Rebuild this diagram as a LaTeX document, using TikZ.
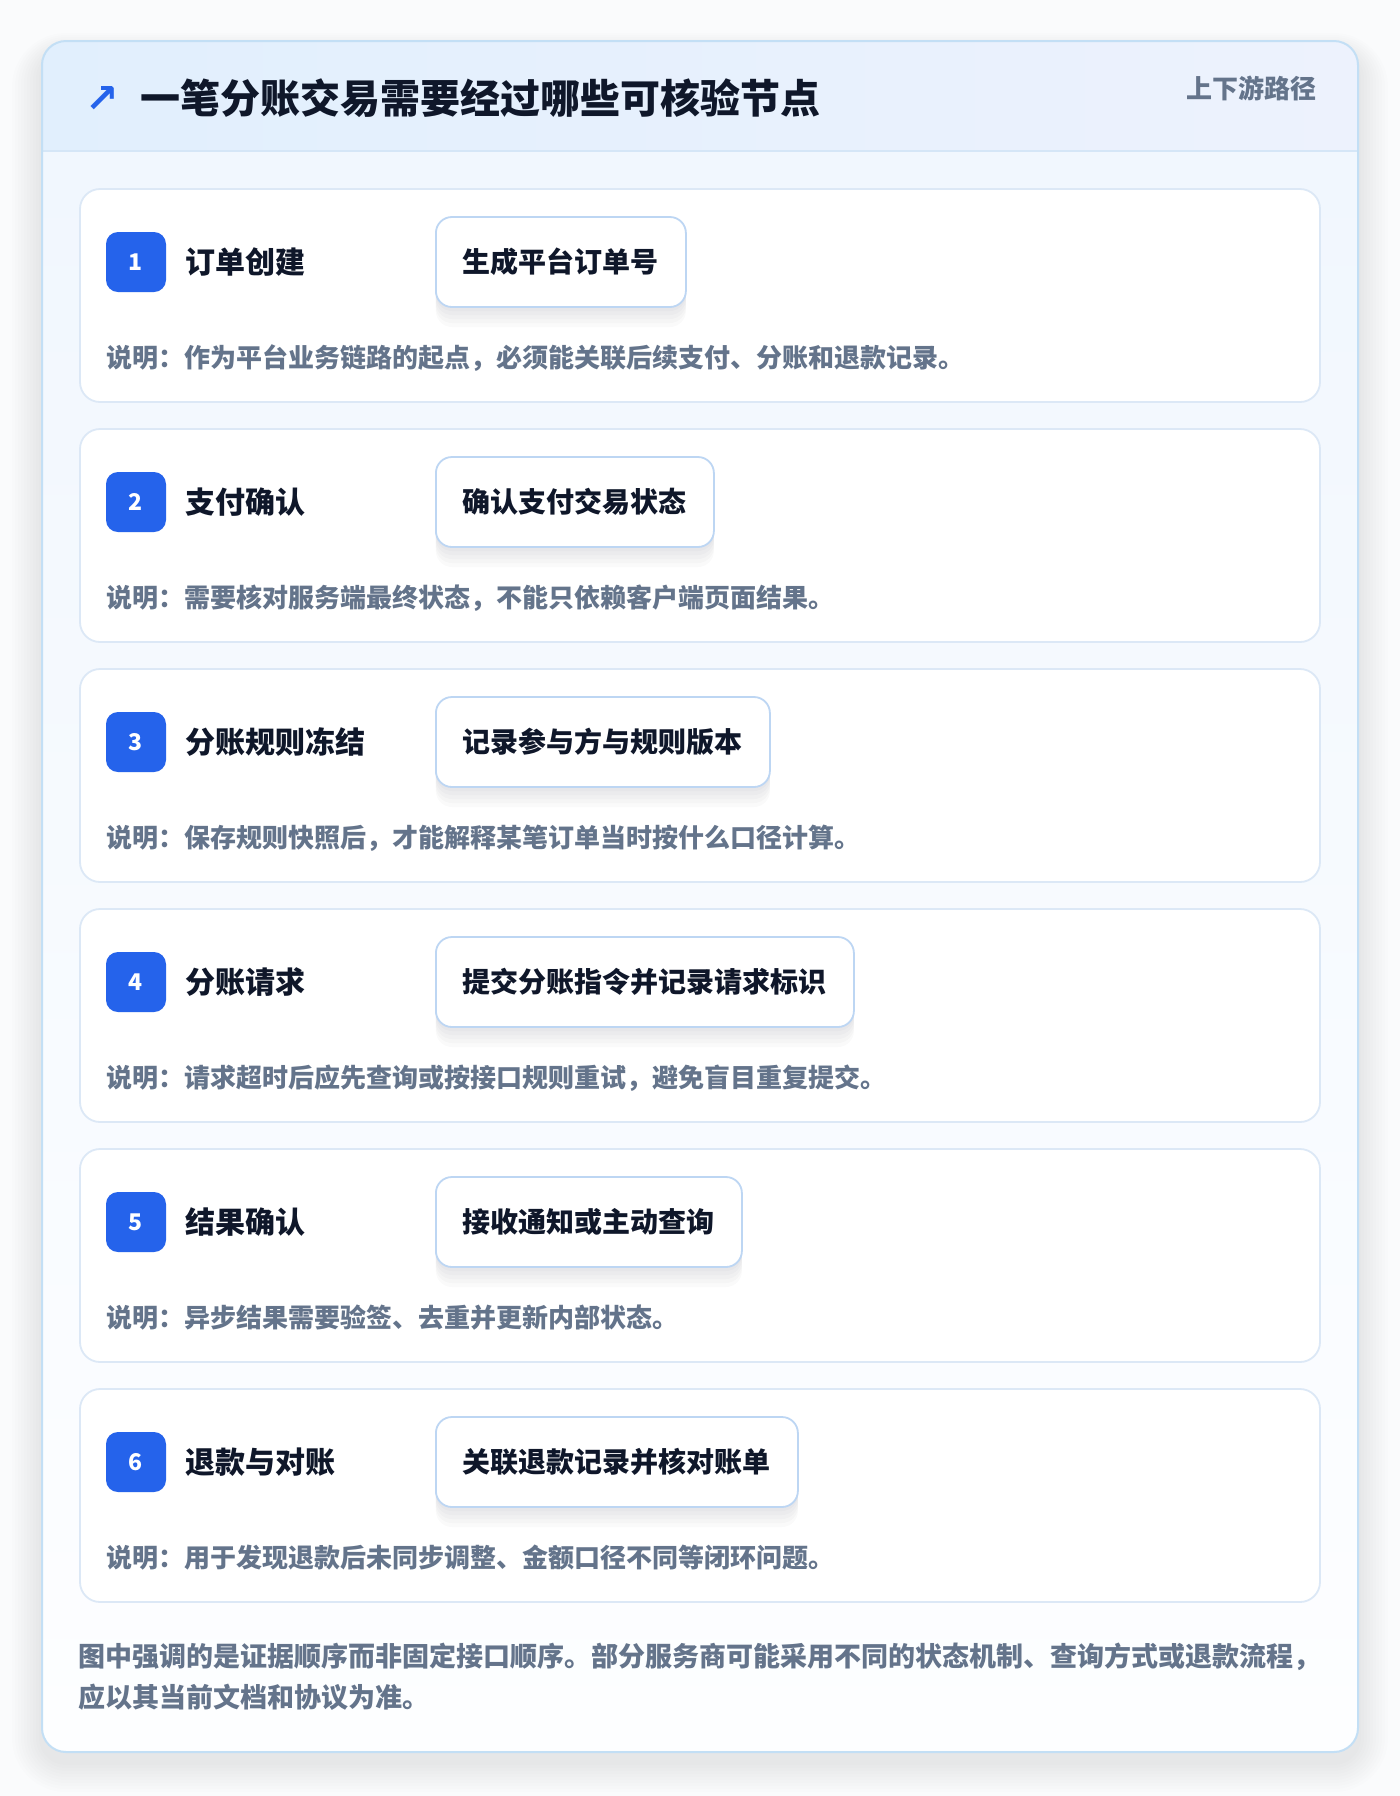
\documentclass[tikz,border=0pt]{standalone}
\usepackage{fontspec}
\setmainfont{Noto Sans CJK SC}
\newfontfamily\symfont{DejaVu Sans}
\usepackage{tikz}
\usetikzlibrary{positioning,shadows}

\definecolor{pagebg}{HTML}{FAFBFC}
\definecolor{frameline}{HTML}{C3DFF5}
\definecolor{headleft}{HTML}{E1EFFD}
\definecolor{headright}{HTML}{EDF2FD}
\definecolor{headsep}{HTML}{D5E6F7}
\definecolor{bodytop}{HTML}{F1F7FE}
\definecolor{bodybot}{HTML}{FDFEFF}
\definecolor{cardline}{HTML}{DCE8F6}
\definecolor{boxline}{HTML}{BDD6F3}
\definecolor{badgeblue}{HTML}{2563EB}
\definecolor{inkdark}{HTML}{0F172A}
\definecolor{inkgray}{HTML}{64748B}

\tikzset{
  stepcard/.style={draw=cardline, line width=0.9pt, fill=white, rounded corners=10pt,
    minimum width=620pt, minimum height=106.5pt, inner sep=0pt},
  badge/.style={fill=badgeblue, rounded corners=6pt, minimum size=30pt, inner sep=0pt,
    text=white, font=\fontsize{11.5pt}{13pt}\selectfont\bfseries},
  steptitle/.style={inner sep=0pt, text=inkdark, font=\fontsize{15pt}{18pt}\selectfont\bfseries},
  softshadow/.style={drop shadow={shadow xshift=0pt, shadow yshift=-#1, opacity=.018, fill=inkdark}},
  actionbox/.style={draw=boxline, line width=0.9pt, fill=white, rounded corners=8pt,
    minimum height=45pt, inner xsep=13.5pt, text=inkdark,
    font=\fontsize{14pt}{17pt}\selectfont\bfseries,
    softshadow=2pt, softshadow=4pt, softshadow=6pt, softshadow=8pt, softshadow=10pt},
  note/.style={inner sep=0pt, anchor=west, text=inkgray, font=\fontsize{13pt}{15pt}\selectfont\bfseries}
}

\begin{document}
\begin{tikzpicture}[x=0.5pt,y=-0.5pt]
  \useasboundingbox (0,0) rectangle (1400,1796);
  \fill[pagebg] (0,0) rectangle (1400,1796);

  % soft shadow round the frame
  \foreach \s in {1,...,10}
    \fill[black, opacity=0.007, rounded corners=12pt+\s*1.5pt]
      (42-\s*3,41-\s*2+12) rectangle (1358+\s*3,1752+\s*3+10);

  % frame, header band and body
  \begin{scope}
    \clip[rounded corners=12pt] (42,41) rectangle (1358,1752);
    \fill[top color=bodytop, bottom color=bodybot] (42,151) rectangle (1358,1752);
    \fill[left color=headleft, right color=headright] (42,41) rectangle (1358,151);
    \draw[headsep, line width=1pt] (42,151) -- (1358,151);
  \end{scope}
  \draw[frameline, line width=1pt, rounded corners=12pt] (42,41) rectangle (1358,1752);

  \node[inner sep=0pt, text=badgeblue, font=\symfont\fontsize{20pt}{22pt}\selectfont\bfseries] (icon) at (102,99) {↗};
  \node[inner sep=0pt, anchor=west, text=inkdark, font=\fontsize{20pt}{24pt}\selectfont\bfseries]
    (heading) at (140,98) {一笔分账交易需要经过哪些可核验节点};
  \node[inner sep=0pt, anchor=east, text=inkgray, font=\fontsize{13pt}{15pt}\selectfont\bfseries]
    (tag) at (1317,88) {上下游路径};

  % the six steps
  \foreach \i/\name/\act/\txt in {
      1/订单创建/生成平台订单号/作为平台业务链路的起点，必须能关联后续支付、分账和退款记录。,
      2/支付确认/确认支付交易状态/需要核对服务端最终状态，不能只依赖客户端页面结果。,
      3/分账规则冻结/记录参与方与规则版本/保存规则快照后，才能解释某笔订单当时按什么口径计算。,
      4/分账请求/提交分账指令并记录请求标识/请求超时后应先查询或按接口规则重试，避免盲目重复提交。,
      5/结果确认/接收通知或主动查询/异步结果需要验签、去重并更新内部状态。,
      6/退款与对账/关联退款记录并核对账单/用于发现退款后未同步调整、金额口径不同等闭环问题。}
  {
    \pgfmathsetmacro\ytop{189+240*(\i-1)}
    \node[stepcard] (card\i) at (700,\ytop+106.5) {};
    \node[badge] (badge\i) at (136,\ytop+73) {\i};
    \node[steptitle, right=9.5pt of badge\i] (title\i) {\name};
    \node[actionbox, anchor=west] (act\i) at (435,\ytop+73) {\act};
    \node[note] (note\i) at (106,\ytop+169) {说明：\txt};
  }

  \node[inner sep=0pt, anchor=west, align=left, text=inkgray,
    font=\fontsize{13.5pt}{20.5pt}\selectfont\bfseries] (footer) at (78,1677)
    {图中强调的是证据顺序而非固定接口顺序。部分服务商可能采用不同的状态机制、查询方式或退款流程，\\
     应以其当前文档和协议为准。};
\end{tikzpicture}
\end{document}
